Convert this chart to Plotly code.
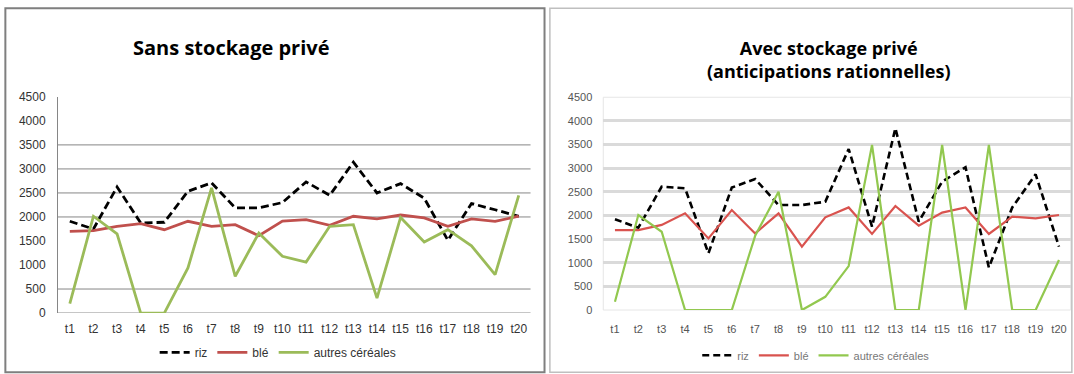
import plotly.graph_objects as go

periods = [f"t{i}" for i in range(1, 21)]

# Sans stockage privé
riz_sans = [1910, 1750, 2625, 1875, 1890, 2535, 2710, 2190, 2190, 2300,
            2730, 2450, 3140, 2500, 2695, 2390, 1515, 2280, 2150, 2015]
ble_sans = [1700, 1715, 1805, 1860, 1735, 1910, 1805, 1840, 1610, 1915,
            1945, 1825, 2015, 1960, 2040, 1980, 1805, 1960, 1910, 2015]
autres_sans = [195, 2015, 1650, 0, 0, 940, 2605, 765, 1665, 1180,
               1060, 1805, 1840, 310, 1990, 1480, 1735, 1400, 800, 2450]

# Avec stockage privé (anticipations rationnelles)
riz_avec = [1920, 1740, 2610, 2575, 1200, 2590, 2770, 2220, 2220, 2290,
            3405, 1765, 3845, 1870, 2715, 3020, 900, 2170, 2870, 1340]
ble_avec = [1690, 1690, 1800, 2045, 1515, 2115, 1620, 2045, 1340, 1960,
            2170, 1610, 2200, 1785, 2060, 2170, 1610, 1975, 1940, 2010]
autres_avec = [175, 2010, 1655, 0, 0, 0, 1570, 2500, 0, 280,
               930, 3490, 0, 0, 3490, 0, 3490, 0, 0, 1060]

series_names = ["riz", "blé", "autres céréales"]
tick_vals = [0, 500, 1000, 1500, 2000, 2500, 3000, 3500, 4000, 4500]
# gridlines visible in the left (low-resolution) panel
left_grid_vals = [500, 2000, 2500, 3000, 3500]

C_RIZ = "#000000"
C_BLE = "#C0504D"
C_AUT = "#9BBB59"
FONT = "Liberation Sans Narrow, Arial Narrow, sans-serif"
TFONT = "Open Sans, sans-serif"

fig = go.Figure()

def add(xa, ya, leg, data, name, color, dash, width):
    fig.add_trace(go.Scatter(x=periods, y=data, name=name, mode="lines",
                             line=dict(color=color, dash=dash, width=width),
                             xaxis=xa, yaxis=ya, legend=leg))

add("x", "y", "legend", riz_sans, series_names[0], C_RIZ, "8px,4px", 2.8)
add("x", "y", "legend", ble_sans, series_names[1], C_BLE, "solid", 2.8)
add("x", "y", "legend", autres_sans, series_names[2], C_AUT, "solid", 2.8)
add("x2", "y2", "legend2", riz_avec, series_names[0], C_RIZ, "7px,4px", 2.6)
add("x2", "y2", "legend2", ble_avec, series_names[1], "#D9534F", "solid", 2.2)
add("x2", "y2", "legend2", autres_avec, series_names[2], "#92C84F", "solid", 2.2)

xr = [-0.5, len(periods) - 0.5]

shapes = [
    dict(type="rect", xref="paper", yref="paper", x0=0.005, x1=0.507, y0=0.005, y1=0.978,
         line=dict(color="#7F7F7F", width=2)),
    dict(type="rect", xref="paper", yref="paper", x0=0.512, x1=0.998, y0=0.005, y1=0.978,
         line=dict(color="#BFBFBF", width=1.5)),
    dict(type="rect", xref="paper", yref="paper", x0=0.5617, x1=0.9969, y0=0.171, y1=0.740,
         line=dict(color="#E6E6E6", width=1), layer="below"),
]
for v in left_grid_vals:
    shapes.append(dict(type="line", xref="x domain", yref="y", x0=0, x1=1, y0=v, y1=v,
                       line=dict(color="#868686", width=1), layer="below"))
shapes.append(dict(type="line", xref="x domain", yref="y", x0=0, x1=1, y0=0, y1=0,
                   line=dict(color="#868686", width=1), layer="below"))

fig.update_layout(
    width=1074, height=374,
    margin=dict(l=0, r=0, t=0, b=0, autoexpand=False),
    paper_bgcolor="white", plot_bgcolor="white",
    showlegend=True,
    xaxis=dict(domain=[0.054, 0.494], anchor="y", showgrid=False, range=xr,
               showline=False, ticks="", automargin=False, ticklabelstandoff=7,
               tickfont=dict(family=FONT, size=12, color="#333"), fixedrange=True),
    yaxis=dict(domain=[0.163, 0.741], anchor="x", range=[0, 4500], automargin=False,
               tickvals=tick_vals, showgrid=False,
               showline=True, linecolor="#868686", linewidth=1, zeroline=False,
               ticks="", ticklabelstandoff=9,
               tickfont=dict(family=FONT, size=12, color="#333")),
    xaxis2=dict(domain=[0.5617, 0.9969], anchor="y2", showgrid=False, range=xr,
                showline=False, ticks="", automargin=False, ticklabelstandoff=11,
                tickfont=dict(family=FONT, size=11, color="#555"), fixedrange=True),
    yaxis2=dict(domain=[0.171, 0.740], anchor="x2", range=[0, 4500], automargin=False,
                tickvals=tick_vals, showgrid=True, gridcolor="#DADADA", gridwidth=3,
                showline=False, zeroline=False, ticklabelstandoff=10,
                ticks="", tickfont=dict(family=FONT, size=11, color="#555")),
    legend=dict(orientation="h", x=0.259, y=0.058, xanchor="center", yanchor="middle",
                font=dict(family=FONT, size=12, color="#333"), bgcolor="rgba(0,0,0,0)"),
    legend2=dict(orientation="h", x=0.76, y=0.05, xanchor="center", yanchor="middle",
                 font=dict(family=FONT, size=11, color="#777"), bgcolor="rgba(0,0,0,0)"),
    annotations=[
        dict(text="<b>Sans stockage privé</b>", x=0.216, y=0.874, xref="paper", yref="paper",
             xanchor="center", yanchor="middle",
             showarrow=False, font=dict(family=TFONT, size=20, color="#000")),
        dict(text="<b>Avec stockage privé<br>(anticipations rationnelles)</b>", x=0.771, y=0.842,
             xref="paper", yref="paper", xanchor="center", yanchor="middle", showarrow=False,
             font=dict(family=TFONT, size=18, color="#000")),
    ],
    shapes=shapes,
)

fig.write_html("out.html", config={"displayModeBar": False},
               post_script="document.body.style.margin='0';document.body.style.overflow='hidden';")
